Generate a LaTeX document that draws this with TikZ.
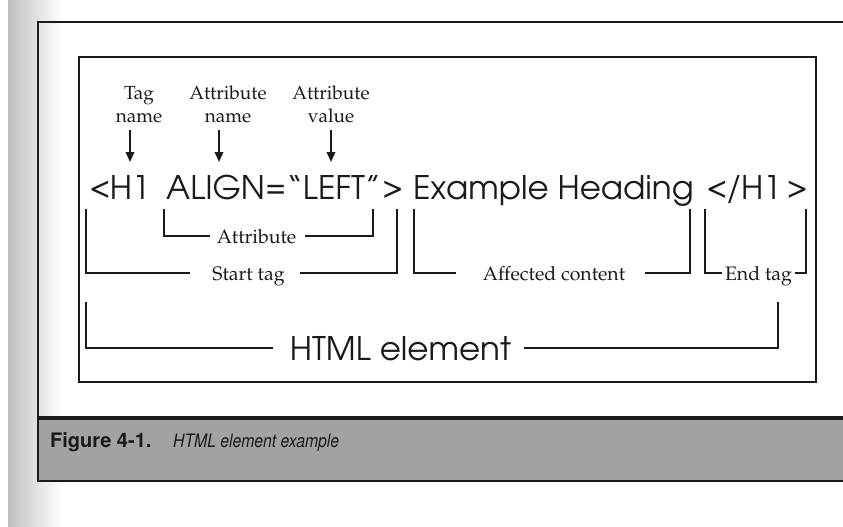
\documentclass[tikz,border=0pt]{standalone}
\usepackage[T1]{fontenc}
\usepackage{fontspec}
\usetikzlibrary{arrows.meta}
\newfontfamily\capfont{TeX Gyre Heros}
\newfontfamily\capfontn[FakeStretch=0.85]{TeX Gyre Heros}
\newcommand{\palafont}{\fontencoding{T1}\fontfamily{ppl}\selectfont}
\newcommand{\avgfont}{\fontencoding{T1}\fontfamily{pag}\selectfont}
\definecolor{ink}{HTML}{1A1A1A}
\definecolor{barcol}{HTML}{A2A2A2}
\begin{document}
\begin{tikzpicture}[x=1pt,y=-1pt,
  frame/.style={line width=2pt, draw=ink},
  brk/.style={line width=1.8pt, draw=ink},
  arr/.style={line width=1.8pt, draw=ink, -{Triangle[length=10pt,width=8.5pt]}},
  code/.style={font=\avgfont\fontsize{32.5}{36}\selectfont, inner sep=0pt, anchor=base west, text=ink},
  lab/.style={font=\palafont\fontsize{19.5}{23}\selectfont, inner sep=0pt, text height=14pt, text depth=0pt, anchor=center, align=center, text=ink},
  toplab/.style={font=\palafont\fontsize{19}{23}\selectfont, inner sep=0pt, align=center, anchor=south, text=ink}]
\useasboundingbox (0,0) rectangle (843,527);
\fill[white] (0,0) rectangle (843,527);
\shade[left color=gray!50, right color=white] (8,0) rectangle (62,527);
% outer frame and caption bar
\draw[frame] (843,22) -- (38,22) -- (38,418);
\fill[barcol] (38,418) rectangle (843,481);
\draw[line width=2pt, draw=ink] (38,418) -- (38,481) -- (843,481);
\draw[line width=3.2pt, draw=ink] (37,418) -- (843,418);
\node[font=\capfont\bfseries\fontsize{20}{22}\selectfont, anchor=base west, inner sep=0pt, text=ink] (fig) at (50,447) {Figure 4-1.};
\node[font=\capfontn\itshape\fontsize{18.5}{22}\selectfont, anchor=base west, inner sep=0pt, text=ink] (figtitle) at (173,447) {HTML element example};
% inner box
\draw[brk] (79,57) rectangle (816,382);
% top labels
\node[toplab] (tagname) at (139,123) {Tag\\name};
\node[toplab] (attrname) at (228,123) {Attribute\\name};
\node[toplab] (attrval) at (331,123) {Attribute\\value};
% code line
\node[code] (open) at (90,199) {\textless H1};
\node[code] (attr) at (166,199) {ALIGN\kern1pt=\kern1pt``LEFT''\kern2pt\textgreater};
\node[code] (content) at (413,199) {Example Heading};
\node[code] (close) at (707,199) {\textless/H1\kern6pt\textgreater};
% arrows
\coordinate (p1) at (130,162);
\coordinate (p2) at (219,162);
\coordinate (p3) at (331,162);
\draw[arr, shorten <=7pt] (tagname.south -| p1) -- (p1);
\draw[arr, shorten <=7pt] (attrname.south -| p2) -- (p2);
\draw[arr, shorten <=7pt] (attrval.south -| p3) -- (p3);
% bracket corners
\coordinate (aL) at (164,209); \coordinate (aR) at (373,209);
\coordinate (sL) at (86,209);  \coordinate (sR) at (397,209);
\coordinate (cL) at (414,209); \coordinate (cR) at (690,209);
\coordinate (eL) at (705,209); \coordinate (eR) at (806,209);
\coordinate (hL) at (86,302);  \coordinate (hR) at (778,302);
% bracket labels
\node[lab, minimum width=79pt] (lattr) at (256.5,236) {Attribute};
\node[lab, minimum width=83pt] (lstart) at (248.5,273) {Start tag};
\node[lab, minimum width=142pt] (lcont) at (554,273) {Affected content};
\node[lab, minimum width=67pt] (lend) at (758.5,273) {End tag};
\node[lab, font=\avgfont\fontsize{32.5}{36}\selectfont, text height=24pt, minimum width=219pt] (lhtml) at (400.5,348) {HTML element};
% brackets
\draw[brk] (aL) |- ([xshift=-7pt]lattr.west);
\draw[brk] (aR) |- ([xshift=9pt]lattr.east);
\draw[brk] (sL) |- ([xshift=-17pt]lstart.west);
\draw[brk] (sR) |- ([xshift=10pt]lstart.east);
\draw[brk] (cL) |- ([xshift=-27pt]lcont.west);
\draw[brk] (cR) |- ([xshift=20pt]lcont.east);
\draw[brk] (eL) |- ([xshift=-3pt]lend.west);
\draw[brk] (eR) |- ([xshift=3pt]lend.east);
\draw[brk] (hL) |- ([xshift=-17pt]lhtml.west);
\draw[brk] (hR) |- ([xshift=13pt]lhtml.east);
\end{tikzpicture}
\end{document}
